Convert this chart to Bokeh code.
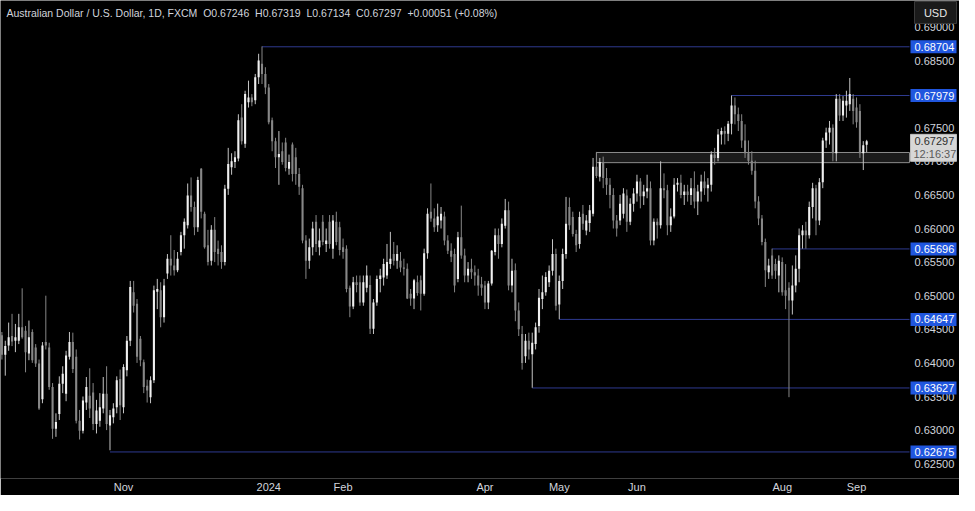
import pandas as pd
from bokeh.plotting import figure
from bokeh.models import ColumnDataSource, Range1d, FixedTicker
from bokeh.embed import file_html
from bokeh.resources import INLINE

# ---------------- data ----------------
start_date = "2023-09-12"
end_date = "2024-09-05"
closed_days = ["2024-01-01"]

opens = [
    0.6441, 0.6412, 0.6426, 0.6440, 0.6433, 0.6433, 0.6453, 0.6448, 0.6414, 0.6446,
    0.6423, 0.6399, 0.6346, 0.6431, 0.6423, 0.6364, 0.6302, 0.6324, 0.6369, 0.6354,
    0.6409, 0.6431, 0.6409, 0.6314, 0.6299, 0.6341, 0.6351, 0.6356, 0.6309, 0.6314,
    0.6332, 0.6354, 0.6307, 0.6319, 0.6334, 0.6376, 0.6334, 0.6389, 0.6433, 0.6505,
    0.6488, 0.6436, 0.6401, 0.6366, 0.6349, 0.6374, 0.6506, 0.6508, 0.6468, 0.6533,
    0.6555, 0.6545, 0.6538, 0.6565, 0.6590, 0.6605, 0.6649, 0.6632, 0.6602, 0.6689,
    0.6622, 0.6575, 0.6552, 0.6598, 0.6570, 0.6565, 0.6550, 0.6659, 0.6691, 0.6699,
    0.6704, 0.6765, 0.6726, 0.6788, 0.6795, 0.6791, 0.6825, 0.6845, 0.6830, 0.6810,
    0.6761, 0.6730, 0.6706, 0.6715, 0.6728, 0.6689, 0.6725, 0.6706, 0.6681, 0.6660,
    0.6582, 0.6552, 0.6572, 0.6610, 0.6572, 0.6610, 0.6577, 0.6610, 0.6570, 0.6610,
    0.6602, 0.6572, 0.6570, 0.6512, 0.6484, 0.6520, 0.6520, 0.6490, 0.6512, 0.6516,
    0.6451, 0.6490, 0.6525, 0.6527, 0.6530, 0.6547, 0.6562, 0.6552, 0.6552, 0.6542,
    0.6540, 0.6503, 0.6496, 0.6520, 0.6523, 0.6503, 0.6563, 0.6625, 0.6615, 0.6605,
    0.6612, 0.6618, 0.6582, 0.6567, 0.6562, 0.6525, 0.6587, 0.6560, 0.6530, 0.6540,
    0.6535, 0.6530, 0.6517, 0.6515, 0.6490, 0.6518, 0.6565, 0.6590, 0.6577, 0.6604,
    0.6627, 0.6515, 0.6538, 0.6478, 0.6443, 0.6410, 0.6433, 0.6413, 0.6428, 0.6455,
    0.6495, 0.6505, 0.6520, 0.6537, 0.6562, 0.6487, 0.6522, 0.6562, 0.6632, 0.6617,
    0.6592, 0.6577, 0.6622, 0.6597, 0.6608, 0.6622, 0.6692, 0.6677, 0.6699, 0.6675,
    0.6665, 0.6650, 0.6612, 0.6612, 0.6622, 0.6649, 0.6610, 0.6637, 0.6652, 0.6670,
    0.6648, 0.6655, 0.6660, 0.6582, 0.6610, 0.6605, 0.6660, 0.6657, 0.6605, 0.6618,
    0.6665, 0.6668, 0.6650, 0.6655, 0.6650, 0.6660, 0.6640, 0.6655, 0.6670, 0.6660,
    0.6665, 0.6710, 0.6705, 0.6740, 0.6745, 0.6741, 0.6756, 0.6783, 0.6770, 0.6760,
    0.6731, 0.6712, 0.6701, 0.6686, 0.6640, 0.6615, 0.6580, 0.6535, 0.6560, 0.6547,
    0.6530, 0.6550, 0.6508, 0.6512, 0.6493, 0.6515, 0.6540, 0.6590, 0.6597, 0.6590,
    0.6632, 0.6660, 0.6612, 0.6669, 0.6731, 0.6743, 0.6750, 0.6712, 0.6793, 0.6768,
    0.6783, 0.6785, 0.6793, 0.6780, 0.6775, 0.6712, 0.67246,
]
highs = [
    0.6446, 0.6433, 0.6460, 0.6473, 0.6458, 0.6473, 0.6511, 0.6455, 0.6463, 0.6450,
    0.6428, 0.6405, 0.6431, 0.6500, 0.6430, 0.6370, 0.6325, 0.6380, 0.6395, 0.6418,
    0.6446, 0.6445, 0.6420, 0.6330, 0.6350, 0.6379, 0.6392, 0.6370, 0.6345, 0.6355,
    0.6379, 0.6395, 0.6330, 0.6340, 0.6380, 0.6390, 0.6398, 0.6440, 0.6522, 0.6522,
    0.6495, 0.6440, 0.6405, 0.6375, 0.6380, 0.6515, 0.6525, 0.6520, 0.6525, 0.6562,
    0.6590, 0.6568, 0.6565, 0.6595, 0.6615, 0.6667, 0.6676, 0.6640, 0.6677, 0.6690,
    0.6625, 0.6598, 0.6605, 0.6617, 0.6582, 0.6575, 0.6665, 0.6720, 0.6712, 0.6715,
    0.6770, 0.6785, 0.6805, 0.6820, 0.6800, 0.6830, 0.6860, 0.6871, 0.6840, 0.6815,
    0.6765, 0.6735, 0.6745, 0.6728, 0.6735, 0.6710, 0.6728, 0.6720, 0.6690, 0.6665,
    0.6590, 0.6585, 0.6610, 0.6620, 0.6600, 0.6620, 0.6600, 0.6620, 0.6620, 0.6625,
    0.6610, 0.6585, 0.6575, 0.6515, 0.6528, 0.6530, 0.6530, 0.6530, 0.6545, 0.6530,
    0.6495, 0.6530, 0.6540, 0.6555, 0.6577, 0.6595, 0.6580, 0.6575, 0.6565, 0.6555,
    0.6548, 0.6510, 0.6525, 0.6530, 0.6530, 0.6570, 0.6630, 0.6667, 0.6630, 0.6637,
    0.6632, 0.6625, 0.6590, 0.6578, 0.6570, 0.6595, 0.6634, 0.6570, 0.6550, 0.6555,
    0.6545, 0.6540, 0.6528, 0.6522, 0.6522, 0.6568, 0.6600, 0.6600, 0.6615, 0.6644,
    0.6640, 0.6555, 0.6548, 0.6490, 0.6455, 0.6443, 0.6445, 0.6445, 0.6460, 0.6510,
    0.6530, 0.6535, 0.6545, 0.6584, 0.6570, 0.6530, 0.6570, 0.6647, 0.6646, 0.6625,
    0.6598, 0.6625, 0.6635, 0.6620, 0.6635, 0.6705, 0.6714, 0.6705, 0.6707, 0.6690,
    0.6675, 0.6660, 0.6620, 0.6650, 0.6660, 0.6658, 0.6645, 0.6660, 0.6680, 0.6675,
    0.6665, 0.6680, 0.6670, 0.6615, 0.6615, 0.6700, 0.6682, 0.6665, 0.6630, 0.6675,
    0.6675, 0.6680, 0.6665, 0.6665, 0.6675, 0.6685, 0.6665, 0.6680, 0.6685, 0.6675,
    0.6715, 0.6720, 0.6748, 0.6750, 0.6752, 0.6760, 0.6798, 0.6795, 0.6780, 0.6770,
    0.6755, 0.6731, 0.6715, 0.6701, 0.6648, 0.6620, 0.6585, 0.6555, 0.6570, 0.6555,
    0.6560, 0.6557, 0.6547, 0.6520, 0.6545, 0.6560, 0.6600, 0.6605, 0.6610, 0.6640,
    0.6668, 0.6665, 0.6675, 0.6735, 0.6750, 0.6760, 0.6755, 0.6800, 0.6800, 0.6797,
    0.6805, 0.6824, 0.6800, 0.6795, 0.6785, 0.6730, 0.67319,
]
lows = [
    0.6405, 0.6381, 0.6418, 0.6425, 0.6416, 0.6428, 0.6436, 0.6386, 0.6404, 0.6400,
    0.6394, 0.6330, 0.6340, 0.6420, 0.6360, 0.6287, 0.6290, 0.6315, 0.6355, 0.6343,
    0.6405, 0.6385, 0.6310, 0.6286, 0.6295, 0.6330, 0.6318, 0.6300, 0.6295, 0.6305,
    0.6325, 0.6300, 0.6270, 0.6310, 0.6325, 0.6315, 0.6325, 0.6380, 0.6425, 0.6475,
    0.6400, 0.6395, 0.6355, 0.6341, 0.6340, 0.6370, 0.6480, 0.6453, 0.6460, 0.6525,
    0.6530, 0.6530, 0.6535, 0.6560, 0.6570, 0.6600, 0.6625, 0.6590, 0.6595, 0.6615,
    0.6570, 0.6545, 0.6545, 0.6550, 0.6545, 0.6540, 0.6545, 0.6650, 0.6680, 0.6690,
    0.6700, 0.6725, 0.6720, 0.6780, 0.6782, 0.6785, 0.6815, 0.6815, 0.6800, 0.6755,
    0.6715, 0.6690, 0.6665, 0.6695, 0.6685, 0.6680, 0.6670, 0.6665, 0.6650, 0.6578,
    0.6525, 0.6540, 0.6560, 0.6565, 0.6560, 0.6575, 0.6565, 0.6570, 0.6555, 0.6575,
    0.6560, 0.6555, 0.6505, 0.6468, 0.6480, 0.6505, 0.6485, 0.6485, 0.6505, 0.6443,
    0.6443, 0.6485, 0.6505, 0.6515, 0.6525, 0.6540, 0.6545, 0.6540, 0.6535, 0.6530,
    0.6495, 0.6485, 0.6480, 0.6500, 0.6478, 0.6500, 0.6555, 0.6610, 0.6595, 0.6595,
    0.6600, 0.6575, 0.6562, 0.6550, 0.6505, 0.6520, 0.6555, 0.6520, 0.6520, 0.6525,
    0.6515, 0.6500, 0.6500, 0.6480, 0.6480, 0.6515, 0.6560, 0.6555, 0.6572, 0.6600,
    0.6508, 0.6505, 0.6462, 0.6440, 0.6390, 0.6400, 0.6405, 0.6363, 0.6420, 0.6445,
    0.6480, 0.6500, 0.6513, 0.6530, 0.6478, 0.6465, 0.6510, 0.6555, 0.6598, 0.6588,
    0.6565, 0.6570, 0.6598, 0.6590, 0.6595, 0.6618, 0.6675, 0.6670, 0.6660, 0.6650,
    0.6630, 0.6600, 0.6588, 0.6605, 0.6615, 0.6595, 0.6605, 0.6625, 0.6640, 0.6630,
    0.6635, 0.6645, 0.6575, 0.6575, 0.6585, 0.6600, 0.6645, 0.6590, 0.6595, 0.6615,
    0.6655, 0.6645, 0.6635, 0.6640, 0.6635, 0.6630, 0.6620, 0.6640, 0.6650, 0.6640,
    0.6655, 0.6695, 0.6700, 0.6725, 0.6725, 0.6730, 0.6740, 0.6755, 0.6745, 0.6720,
    0.6705, 0.6695, 0.6680, 0.6630, 0.6605, 0.6575, 0.6513, 0.6525, 0.6525, 0.6525,
    0.6505, 0.6500, 0.6480, 0.6349, 0.6472, 0.6505, 0.6520, 0.6570, 0.6570, 0.6585,
    0.6615, 0.6590, 0.6605, 0.6660, 0.6720, 0.6725, 0.6700, 0.6700, 0.6760, 0.6760,
    0.6765, 0.6775, 0.6755, 0.6750, 0.6705, 0.6687, 0.67134,
]
closes = [
    0.6412, 0.6425, 0.6438, 0.6432, 0.6438, 0.6453, 0.6438, 0.6416, 0.6438, 0.6404,
    0.6399, 0.6332, 0.6426, 0.6426, 0.6364, 0.6302, 0.6312, 0.6369, 0.6384, 0.6411,
    0.6431, 0.6391, 0.6314, 0.6299, 0.6344, 0.6364, 0.6332, 0.6309, 0.6329, 0.6334,
    0.6354, 0.6309, 0.6322, 0.6332, 0.6374, 0.6337, 0.6394, 0.6433, 0.6513, 0.6485,
    0.6409, 0.6404, 0.6364, 0.6359, 0.6374, 0.6508, 0.6510, 0.6468, 0.6515, 0.6555,
    0.6545, 0.6538, 0.6555, 0.6590, 0.6610, 0.6649, 0.6632, 0.6602, 0.6672, 0.6625,
    0.6572, 0.6550, 0.6598, 0.6565, 0.6562, 0.6550, 0.6659, 0.6696, 0.6700, 0.6706,
    0.6761, 0.6730, 0.6800, 0.6795, 0.6788, 0.6825, 0.6850, 0.6830, 0.6810, 0.6758,
    0.6730, 0.6706, 0.6711, 0.6699, 0.6690, 0.6699, 0.6681, 0.6681, 0.6662, 0.6582,
    0.6552, 0.6572, 0.6600, 0.6577, 0.6582, 0.6580, 0.6582, 0.6577, 0.6612, 0.6580,
    0.6568, 0.6565, 0.6510, 0.6484, 0.6520, 0.6516, 0.6490, 0.6520, 0.6530, 0.6451,
    0.6490, 0.6525, 0.6530, 0.6547, 0.6550, 0.6555, 0.6552, 0.6562, 0.6542, 0.6540,
    0.6496, 0.6496, 0.6523, 0.6504, 0.6503, 0.6563, 0.6622, 0.6615, 0.6602, 0.6618,
    0.6622, 0.6582, 0.6567, 0.6558, 0.6515, 0.6587, 0.6560, 0.6530, 0.6540, 0.6535,
    0.6530, 0.6515, 0.6512, 0.6490, 0.6518, 0.6567, 0.6590, 0.6577, 0.6607, 0.6627,
    0.6515, 0.6537, 0.6478, 0.6450, 0.6400, 0.6433, 0.6420, 0.6430, 0.6453, 0.6497,
    0.6505, 0.6528, 0.6537, 0.6562, 0.6485, 0.6522, 0.6562, 0.6607, 0.6605, 0.6592,
    0.6575, 0.6617, 0.6607, 0.6612, 0.6627, 0.6692, 0.6678, 0.6699, 0.6675, 0.6665,
    0.6650, 0.6612, 0.6600, 0.6637, 0.6652, 0.6610, 0.6637, 0.6652, 0.6670, 0.6648,
    0.6655, 0.6660, 0.6582, 0.6610, 0.6605, 0.6660, 0.6657, 0.6605, 0.6618, 0.6665,
    0.6668, 0.6650, 0.6655, 0.6650, 0.6660, 0.6640, 0.6655, 0.6670, 0.6660, 0.6665,
    0.6710, 0.6705, 0.6740, 0.6745, 0.6741, 0.6756, 0.6783, 0.6770, 0.6760, 0.6731,
    0.6712, 0.6701, 0.6686, 0.6640, 0.6615, 0.6580, 0.6538, 0.6545, 0.6530, 0.6537,
    0.6552, 0.6505, 0.6500, 0.6493, 0.6515, 0.6540, 0.6590, 0.6597, 0.6590, 0.6632,
    0.6660, 0.6612, 0.6669, 0.6731, 0.6743, 0.6750, 0.6712, 0.6793, 0.6768, 0.6790,
    0.6790, 0.6800, 0.6775, 0.6758, 0.6712, 0.6724, 0.67297,
]

y_ticks = [0.625, 0.630, 0.635, 0.640, 0.645, 0.650, 0.655, 0.660, 0.665,
           0.670, 0.675, 0.680, 0.685, 0.690]
tick_dates = ["2023-11-01", "2024-01-02", "2024-02-01", "2024-04-01",
              "2024-05-01", "2024-06-03", "2024-08-01", "2024-09-02"]
tick_labels = ["Nov", "2024", "Feb", "Apr", "May", "Jun", "Aug", "Sep"]

levels = [0.68704, 0.67979, 0.65696, 0.64647, 0.63627, 0.62675]
level_dates = ["2023-12-28", "2024-07-11", "2024-07-29", "2024-05-01",
               "2024-04-19", "2023-10-26"]

zone_bottom = 0.6698
zone_top = 0.67131
zone_date = "2024-05-16"

last_price = 0.67297
countdown = "12:16:37"
currency = "USD"
title_parts = ["Australian Dollar / U.S. Dollar, 1D, FXCM", "O0.67246", "H0.67319",
               "L0.67134", "C0.67297", "+0.00051 (+0.08%)"]

# ---------------- layout & style ----------------
W, H = 959, 495
AXIS_H = 17                # height of the time axis strip
PX_PER_BAR = 3.378
FIRST_BAR_PX = 1.4
PX_PER_PRICE = 6720.0
REF_PRICE, REF_PX = 0.685, 60.0
SCALE_PX = 909             # left edge of the price-scale column
TEXT_PX = SCALE_PX + 3     # left edge of texts in the price-scale column

BG = "#000000"
TXT = "#d1d4dc"
UP_BODY = "#f0f0f0"
UP_WICK = "#c4c4c4"
DN_BODY = "#878787"
DN_WICK = "#878787"
LEVEL_LINE = "#2e3a8f"
LEVEL_BOX = "#2056de"
FONT = "Liberation Sans"


def px_x(px):
    return (px - FIRST_BAR_PX) / PX_PER_BAR


def px_y(py):
    return REF_PRICE - (py - REF_PX) / PX_PER_PRICE


X0, X1 = px_x(0), px_x(W)
Y1, Y0 = px_y(0), px_y(H - AXIS_H)
XB = px_x(SCALE_PX)

dates = [d.strftime("%Y-%m-%d") for d in pd.bdate_range(start_date, end_date)
         if d.strftime("%Y-%m-%d") not in closed_days]
pos = {d: i for i, d in enumerate(dates)}
n = len(opens)
up = [c >= o for o, c in zip(opens, closes)]

src = ColumnDataSource(dict(
    x=list(range(n)), high=highs, low=lows,
    top=[max(o, c) for o, c in zip(opens, closes)],
    bottom=[min(o, c) for o, c in zip(opens, closes)],
    body=[UP_BODY if u else DN_BODY for u in up],
    wick=[UP_WICK if u else DN_WICK for u in up],
))

p = figure(width=W, height=H, output_backend="svg", toolbar_location=None,
           x_range=Range1d(X0, X1), y_range=Range1d(Y0, Y1),
           y_axis_location=None,
           background_fill_color=BG, border_fill_color=BG, outline_line_color=None,
           min_border_left=0, min_border_right=0, min_border_top=0,
           min_border_bottom=AXIS_H)
p.xgrid.visible = False
p.ygrid.visible = False

# support zone
p.quad(left=[pos[zone_date]], right=[XB], bottom=[zone_bottom], top=[zone_top],
       fill_color="#1b1b1b", line_color="#8c8c8c", line_width=1)

# horizontal levels
p.segment(x0=[pos[d] for d in level_dates], y0=levels,
          x1=[XB] * len(levels), y1=levels, line_color=LEVEL_LINE, line_width=1)

# candles
p.segment(x0="x", y0="high", x1="x", y1="low", line_color="wick", line_width=1, source=src)
p.vbar(x="x", width=0.62, top="top", bottom="bottom", fill_color="body",
       line_color=None, source=src)

# time axis
xa = p.xaxis[0]
tick_pos = [pos[d] for d in tick_dates]
xa.ticker = FixedTicker(ticks=tick_pos)
xa.major_label_overrides = {tp: lab for tp, lab in zip(tick_pos, tick_labels)}
xa.axis_line_color = None
xa.major_tick_line_color = None
xa.minor_tick_line_color = None
xa.major_tick_out = 0
xa.major_tick_in = 0
xa.major_label_standoff = 2
xa.major_label_text_color = TXT
xa.major_label_text_font = FONT
xa.major_label_text_font_size = "11px"

# price scale column
p.text(x=[px_x(TEXT_PX + 2)] * len(y_ticks), y=y_ticks,
       text=[f"{t:.5f}" for t in y_ticks], text_align="left", text_baseline="middle",
       text_color=TXT, text_font={"value": FONT}, text_font_size="11px")

box_cx = px_x((SCALE_PX + 1 + W - 3) / 2)
box_w = W - 3 - SCALE_PX - 1
p.rect(x=[box_cx] * len(levels), y=levels, width=box_w, height=13,
       width_units="screen", height_units="screen",
       fill_color=LEVEL_BOX, line_color=None)
p.text(x=[px_x(TEXT_PX + 2)] * len(levels), y=levels,
       text=[f"{lv:.5f}" for lv in levels], text_align="left", text_baseline="middle",
       text_color="#ffffff", text_font={"value": FONT}, text_font_size="11px")

# last price tag (two lines)
line2_y = last_price - 13 / PX_PER_PRICE
p.rect(x=[box_cx], y=[(last_price + line2_y) / 2], width=box_w, height=27,
       width_units="screen", height_units="screen",
       fill_color="#d7d7d7", line_color="#bdbdbd", line_width=1)
p.text(x=[px_x(TEXT_PX + 2)], y=[last_price], text=[f"{last_price:.5f}"],
       text_align="left", text_baseline="middle", text_color="#2e2e2e",
       text_font={"value": FONT}, text_font_size="11px")
p.text(x=[px_x(TEXT_PX + 1)], y=[line2_y], text=[countdown],
       text_align="left", text_baseline="middle", text_color="#5a5a5a",
       text_font={"value": FONT}, text_font_size="11px")

# currency button
p.rect(x=[px_x(SCALE_PX + 26)], y=[px_y(12)], width=42, height=22,
       width_units="screen", height_units="screen",
       fill_color="#1a1a1a", line_color="#3a3a3a", line_width=1)
p.text(x=[px_x(SCALE_PX + 26)], y=[px_y(12)], text=[currency], text_align="center",
       text_baseline="middle", text_color="#e6e6e6", text_font={"value": FONT},
       text_font_size="11px")

# title
p.text(x=[px_x(6)], y=[px_y(12)], text=["\u00a0\u00a0".join(title_parts)],
       text_align="left", text_baseline="middle", text_color=TXT,
       text_font={"value": FONT}, text_font_size="10.5px")

open("out.html", "w").write(file_html(p, INLINE))
